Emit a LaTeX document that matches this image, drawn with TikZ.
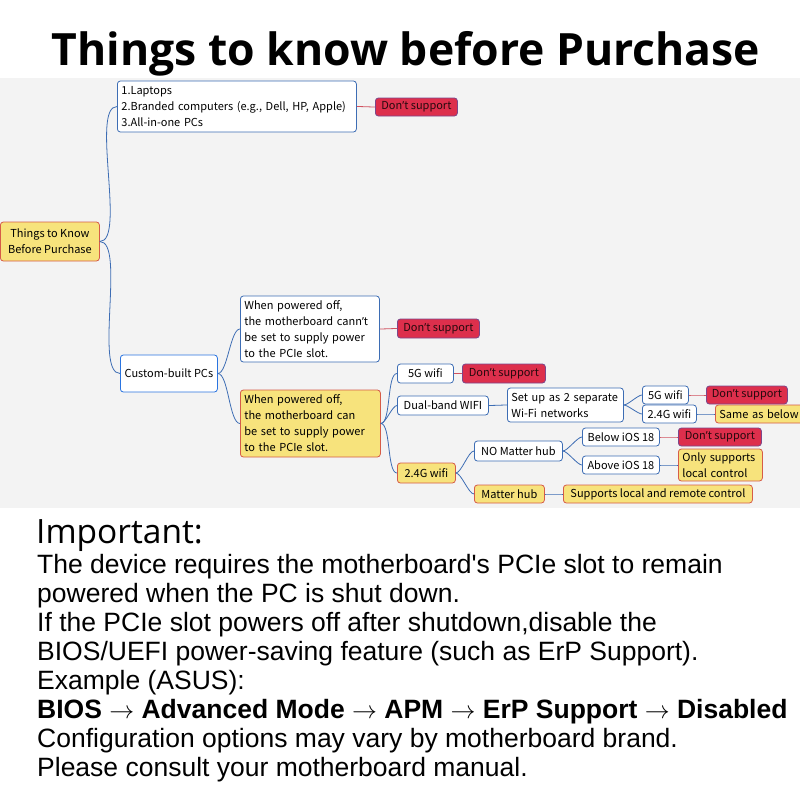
\documentclass[tikz,border=0pt]{standalone}
\usepackage{fontspec}
\setmainfont{Liberation Sans}
\newfontfamily\mapfont{Noto Sans CJK SC}
\newfontfamily\headfont{Open Sans}
\newfontfamily\quotefont{Noto Sans}
\newcommand{\apos}{{\quotefont ’}}
\usetikzlibrary{positioning}

\definecolor{mapblue}{RGB}{61,109,180}
\definecolor{rootblue}{RGB}{42,116,224}
\definecolor{maporange}{RGB}{214,92,72}
\definecolor{mapyellow}{RGB}{247,227,124}
\definecolor{nogored}{RGB}{221,47,76}
\definecolor{nogoedge}{RGB}{122,72,140}
\definecolor{nogotext}{RGB}{40,10,14}
\definecolor{linkred}{RGB}{208,82,96}
\definecolor{bggray}{RGB}{243,243,243}

\begin{document}
\begin{tikzpicture}[
  x=1pt, y=-1pt,
  box/.style={anchor=west, rounded corners=3pt, line width=0.8pt, inner xsep=4pt, inner ysep=0pt,
              font=\mapfont\fontsize{11}{16}\selectfont, text=black},
  plain/.style={box, draw=mapblue, fill=white},
  warm/.style={box, draw=maporange, fill=mapyellow},
  nogo/.style={box, draw=nogoedge, fill=nogored, text=nogotext},
  link/.style={draw=mapblue, line width=0.8pt, out=0, in=180, looseness=0.5},
  nolink/.style={link, draw=linkred},
]
\useasboundingbox (0,0) rectangle (800,800);
\fill[bggray] (0,78) rectangle (800,508);

% ---- title ----
\node[font=\headfont\bfseries\fontsize{44.5}{46}\selectfont, anchor=base] (title) at (406,66)
  {Things to know before Purchase};

% ---- mind map ----
\node[warm, minimum width=99pt, minimum height=39pt, align=center] (root) at (0,241.5)
  {Things to Know\\Before Purchase};
\node[plain, minimum width=239pt, minimum height=51pt, text width=231pt, align=left] (list) at (117,106.5)
  {1.Laptops\\2.Branded computers (e.g., Dell, HP, Apple)\\3.All-in-one PCs};
\node[nogo, minimum width=82pt, minimum height=18pt] (nolist) at (375,107) {Don\apos t support};

\node[plain, draw=rootblue, minimum width=97pt, minimum height=37pt] (custom) at (120,373.5) {Custom-built PCs};
\node[plain, minimum width=139pt, minimum height=66pt, text width=131pt, align=left] (cannot) at (240,329)
  {When powered off,\\the motherboard cann\apos t\\be set to supply power\\to the PCIe slot.};
\node[nogo, minimum width=82pt, minimum height=19pt] (nocannot) at (397,328.5) {Don\apos t support};
\node[warm, minimum width=140pt, minimum height=67pt, text width=132pt, align=left] (can) at (240,423.5)
  {When powered off,\\the motherboard can\\be set to supply power\\to the PCIe slot.};

% ---- wifi branches ----
\node[plain, minimum width=56pt, minimum height=19pt] (five) at (397,373.5) {5G wifi};
\node[nogo, minimum width=83pt, minimum height=19pt] (nofive) at (462,373.5) {Don\apos t support};
\node[plain, minimum width=91pt, minimum height=19pt] (dual) at (397,405.5) {Dual-band WIFI};
\node[plain, minimum width=116pt, minimum height=34pt, text width=108pt, align=left] (split) at (507,405)
  {Set up as 2 separate\\Wi-Fi networks};
\node[plain, minimum width=46pt, minimum height=18pt] (splitfive) at (642,395) {5G wifi};
\node[nogo, minimum width=81pt, minimum height=18pt] (nosplitfive) at (706,395) {Don\apos t support};
\node[plain, minimum width=54pt, minimum height=18pt] (splittwo) at (642,414) {2.4G wifi};
\node[warm, minimum width=92pt, minimum height=18pt, text width=84pt, align=left] (same) at (715,414) {Same as below};
\node[warm, minimum width=58pt, minimum height=20pt] (two) at (397,473) {2.4G wifi};

% ---- 2.4G branches ----
\node[plain, minimum width=88pt, minimum height=20pt] (nohub) at (474,451) {NO Matter hub};
\node[plain, minimum width=77pt, minimum height=18pt] (below) at (582,437) {Below iOS 18};
\node[nogo, minimum width=83pt, minimum height=18pt] (nobelow) at (678,437) {Don\apos t support};
\node[plain, minimum width=77pt, minimum height=18pt] (above) at (582,465) {Above iOS 18};
\node[warm, minimum width=84pt, minimum height=32pt, text width=76pt, align=left] (local) at (678,465)
  {Only supports\\local control};
\node[warm, minimum width=70pt, minimum height=18pt] (hub) at (474,494) {Matter hub};
\node[warm, minimum width=189pt, minimum height=18pt] (remote) at (563,494) {Supports local and remote control};

% ---- connectors ----
\draw[link] (root.east) to (list.west);
\draw[link] (root.east) to (custom.west);
\draw[nolink] (list.east) to (nolist.west);
\draw[link] (custom.east) to (cannot.west);
\draw[link] (custom.east) to (can.west);
\draw[nolink] (cannot.east) to (nocannot.west);
\draw[link] (can.east) to (five.west);
\draw[link] (can.east) to (dual.west);
\draw[link] (can.east) to (two.west);
\draw[nolink] (five.east) to (nofive.west);
\draw[link] (dual.east) to (split.west);
\draw[link] (split.east) to (splitfive.west);
\draw[link] (split.east) to (splittwo.west);
\draw[nolink] (splitfive.east) to (nosplitfive.west);
\draw[link] (splittwo.east) to (same.west);
\draw[link] (two.east) to (nohub.west);
\draw[link] (two.east) to (hub.west);
\draw[link] (nohub.east) to (below.west);
\draw[link] (nohub.east) to (above.west);
\draw[nolink] (below.east) to (nobelow.west);
\draw[link] (above.east) to (local.west);
\draw[link] (hub.east) to (remote.west);

% ---- note ----
\node[font=\headfont\fontsize{33.5}{34}\selectfont, anchor=base west, inner sep=0pt] (important) at (36,543) {Important:};
\node[anchor=north west, inner sep=0pt, align=left, font=\fontsize{26.5}{29}\selectfont] (note) at (37,554)
  {The device requires the motherboard\textquotesingle s PCIe slot to remain\\
   powered when the PC is shut down.\\
   If the PCIe slot powers off after shutdown,disable the\\
   BIOS/UEFI power-saving feature (such as ErP Support).\\
   Example (ASUS):\\
   \textbf{BIOS $\rightarrow$ Advanced Mode $\rightarrow$ APM $\rightarrow$ ErP Support $\rightarrow$ Disabled}\\
   Configuration options may vary by motherboard brand.\\
   Please consult your motherboard manual.};
\end{tikzpicture}
\end{document}
